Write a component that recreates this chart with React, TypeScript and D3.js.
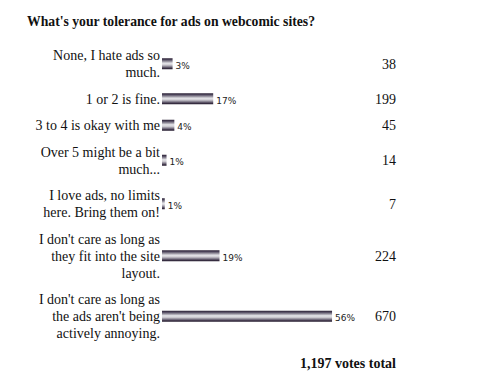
import React, { useEffect, useRef } from "react";
import * as d3 from "d3";

// poll answers (label lines) and vote counts
const answers: string[][] = [
  ["None, I hate ads so", "much."],
  ["1 or 2 is fine."],
  ["3 to 4 is okay with me"],
  ["Over 5 might be a bit", "much..."],
  ["I love ads, no limits", "here. Bring them on!"],
  ["I don't care as long as", "they fit into the site", "layout."],
  ["I don't care as long as", "the ads aren't being", "actively annoying."],
];
const votes: number[] = [38, 199, 45, 14, 7, 224, 670];
const title = "What's your tolerance for ads on webcomic sites?";

const App = () => {
  const ref = useRef<SVGSVGElement>(null);

  useEffect(() => {
    const width = 490;
    const height = 385;
    const serif = "'Liberation Serif', 'DejaVu Serif', serif";
    const labelRight = 160;
    const barLeft = 162;
    const countRight = 396;
    const lineH = 17;
    const pad = 9.5;
    const top = 42;

    const total = d3.sum(votes);
    const svg = d3.select(ref.current).attr("width", width).attr("height", height);
    svg.selectAll("*").remove();

    const defs = svg.append("defs");
    const grad = defs
      .append("linearGradient")
      .attr("id", "barGrad")
      .attr("x1", 0)
      .attr("y1", 0)
      .attr("x2", 0)
      .attr("y2", 1);
    [
      [0, "#2c2236"],
      [0.12, "#4a4258"],
      [0.3, "#9c98a4"],
      [0.45, "#e4e4e8"],
      [0.6, "#d0ced4"],
      [0.78, "#7c7686"],
      [0.9, "#3e3448"],
      [1, "#241b2e"],
    ].forEach(([o, c]) => grad.append("stop").attr("offset", o as number).attr("stop-color", c as string));

    // percentage scale for bar length
    const x = d3.scaleLinear().domain([0, 100]).range([0, 302]);

    // row layout from the number of label lines
    const heights = answers.map((a) => a.length * lineH + pad);
    const tops = heights.map((h, i) => top + d3.sum(heights.slice(0, i)));
    const centers = tops.map((t, i) => t + heights[i] / 2);

    svg
      .append("text")
      .attr("x", 27)
      .attr("y", 26)
      .attr("font-family", serif)
      .attr("font-weight", "bold")
      .attr("font-size", 13.7)
      .attr("fill", "#111")
      .text(title);

    const rows = svg
      .append("g")
      .selectAll("g")
      .data(answers)
      .join("g")
      .attr("transform", (d, i) => `translate(0, ${centers[i]})`);

    rows
      .append("text")
      .attr("text-anchor", "end")
      .attr("font-family", serif)
      .attr("font-size", 14)
      .attr("fill", "#111")
      .selectAll("tspan")
      .data((d) => d.map((line, j) => ({ line, j, n: d.length })))
      .join("tspan")
      .attr("x", labelRight)
      .attr("y", (d) => (d.j - (d.n - 1) / 2) * lineH + 5)
      .text((d) => d.line);

    const pct = (i: number) => (votes[i] / total) * 100;

    rows
      .append("rect")
      .attr("x", barLeft)
      .attr("y", -5.5)
      .attr("height", 11)
      .attr("width", (d, i) => x(pct(i)) + 1)
      .attr("fill", "url(#barGrad)");

    rows
      .append("text")
      .attr("x", (d, i) => barLeft + x(pct(i)) + 4)
      .attr("y", 5)
      .attr("font-family", "'DejaVu Sans', sans-serif")
      .attr("font-size", 9)
      .attr("fill", "#222")
      .text((d, i) => `${Math.round(pct(i))}%`);

    rows
      .append("text")
      .attr("x", countRight)
      .attr("y", 5)
      .attr("text-anchor", "end")
      .attr("font-family", serif)
      .attr("font-size", 14)
      .attr("fill", "#111")
      .text((d, i) => d3.format(",")(votes[i]));

    svg
      .append("text")
      .attr("x", countRight)
      .attr("y", 368)
      .attr("text-anchor", "end")
      .attr("font-family", serif)
      .attr("font-weight", "bold")
      .attr("font-size", 14)
      .attr("fill", "#111")
      .text(`${d3.format(",")(total)} votes total`);
  }, []);

  return (
    <div style={{ position: "absolute", left: 0, top: 0 }}>
      <svg ref={ref} style={{ display: "block" }} />
    </div>
  );
};

export default App;
